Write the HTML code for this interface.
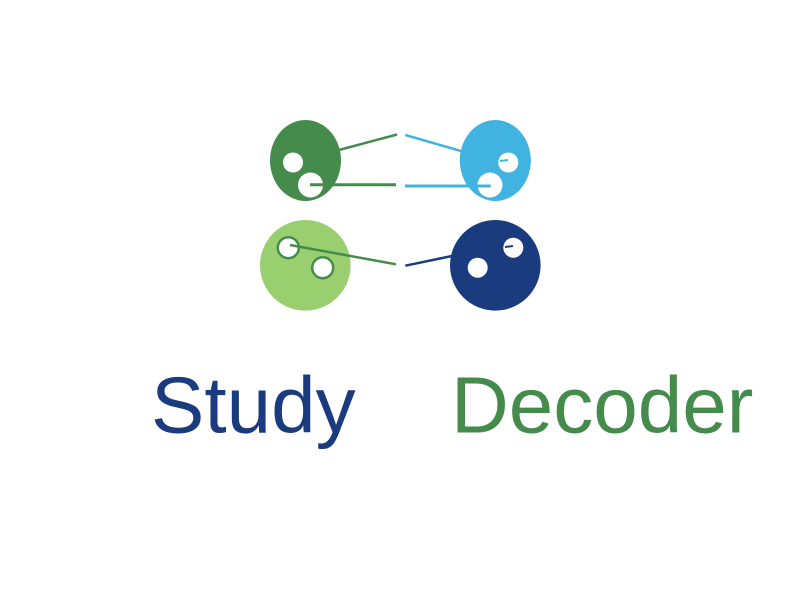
<!DOCTYPE html>
<html><head><meta charset="utf-8"><style>html,body{margin:0;padding:0;background:#fff;width:800px;height:600px;overflow:hidden}</style></head>
<body>
<svg width="800" height="600" viewBox="0 0 800 600" xmlns="http://www.w3.org/2000/svg">
<rect width="800" height="600" fill="#fff"/>
<!-- top-left -->
<ellipse cx="305.5" cy="160.5" rx="35.5" ry="40.5" fill="#458B4C"/>
<circle cx="293" cy="162.5" r="10" fill="#fff"/>
<circle cx="310.5" cy="185" r="12.5" fill="#fff"/>
<line x1="339" y1="150" x2="397" y2="134.5" stroke="#458B4C" stroke-width="2.5"/>
<line x1="310" y1="184.7" x2="396" y2="184.7" stroke="#458B4C" stroke-width="3"/>
<!-- top-right -->
<ellipse cx="495.3" cy="160.5" rx="35.5" ry="40.5" fill="#41B3E0"/>
<circle cx="508.3" cy="162.5" r="10" fill="#fff"/>
<circle cx="490" cy="185" r="12.5" fill="#fff"/>
<line x1="405.3" y1="135" x2="462" y2="151.3" stroke="#41B3E0" stroke-width="2.5"/>
<line x1="405" y1="186" x2="490.7" y2="186" stroke="#41B3E0" stroke-width="3"/>
<line x1="500" y1="161" x2="508" y2="160" stroke="#41B3E0" stroke-width="2"/>
<!-- bottom-left -->
<circle cx="305.3" cy="265.3" r="45.3" fill="#99CF6E"/>
<circle cx="288.3" cy="247.7" r="10.5" fill="#fff" stroke="#458B4C" stroke-width="2.5"/>
<circle cx="322.7" cy="267.7" r="10.5" fill="#fff" stroke="#458B4C" stroke-width="2.5"/>
<line x1="290" y1="245" x2="396" y2="264.3" stroke="#458B4C" stroke-width="2.5"/>
<!-- bottom-right -->
<circle cx="495.3" cy="265.3" r="45.3" fill="#1A3C7F"/>
<circle cx="513.3" cy="247.7" r="10" fill="#fff"/>
<circle cx="477.7" cy="267.7" r="10" fill="#fff"/>
<line x1="405.3" y1="265.7" x2="452" y2="256" stroke="#1A3C7F" stroke-width="2.5"/>
<line x1="505" y1="247" x2="513" y2="246" stroke="#1A3C7F" stroke-width="2"/>
<text x="151" y="432.5" font-family="Liberation Sans, Arial, sans-serif" font-size="80" fill="#1A3C7F">Study</text>
<text x="451" y="432.5" font-family="Liberation Sans, Arial, sans-serif" font-size="80" fill="#458B4C">Decoder</text>
</svg>
</body></html>
